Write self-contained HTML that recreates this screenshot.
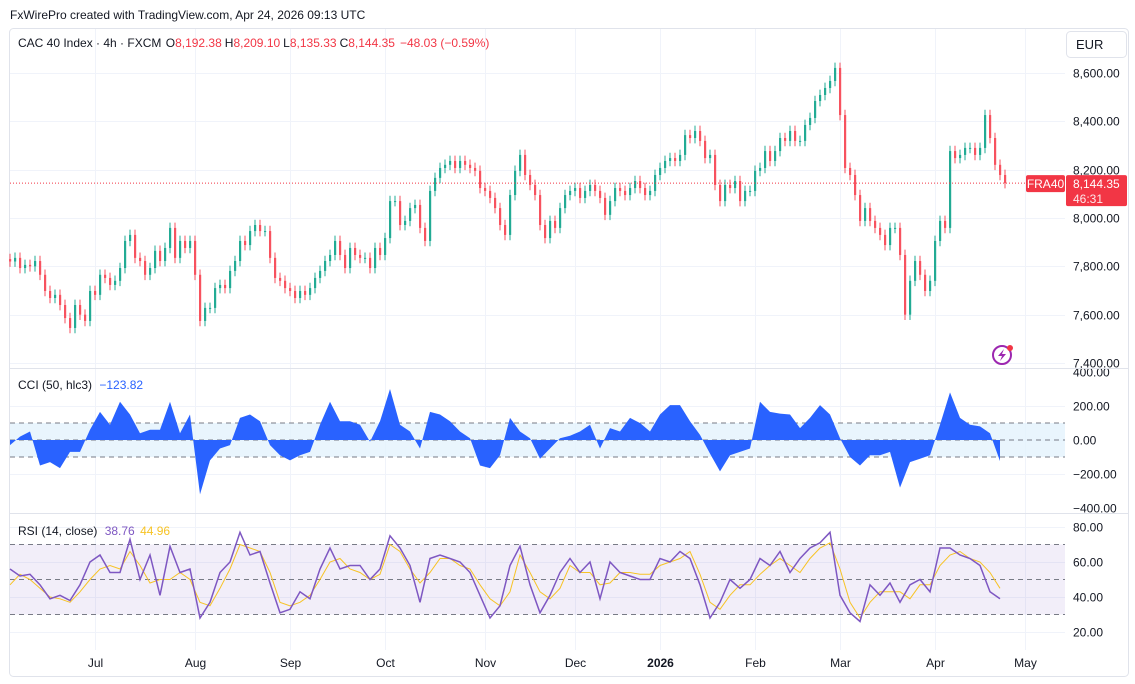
<!DOCTYPE html>
<html><head><meta charset="utf-8"><style>
html,body{margin:0;padding:0;background:#fff;}
svg{display:block;font-family:"Liberation Sans",sans-serif;}
</style></head><body>
<svg id="chart" width="1135" height="684" xmlns="http://www.w3.org/2000/svg">
<rect x="0" y="0" width="1135" height="684" fill="#fff"/>
<text x="10" y="19" font-size="12" fill="#131722">FxWirePro created with TradingView.com, Apr 24, 2026 09:13 UTC</text>
<rect x="9.5" y="28.5" width="1119" height="648" fill="none" stroke="#e0e3eb" rx="4"/>
<g id="grid"></g>
<g id="bands"></g>
<g id="candles"></g>
<g id="cci"></g>
<g id="rsi"></g>
<g id="axes"></g>
<line x1="10" y1="368.5" x2="1128" y2="368.5" stroke="#e0e3eb"/>
<line x1="10" y1="513.5" x2="1128" y2="513.5" stroke="#e0e3eb"/>
<text x="18" y="47" font-size="12" fill="#131722">CAC 40 Index · 4h · FXCM <tspan dx="1">O</tspan><tspan fill="#f23645">8,192.38</tspan><tspan dx="3">H</tspan><tspan fill="#f23645">8,209.10</tspan><tspan dx="3">L</tspan><tspan fill="#f23645">8,135.33</tspan><tspan dx="3">C</tspan><tspan fill="#f23645">8,144.35</tspan><tspan fill="#f23645" dx="5">−48.03 (−0.59%)</tspan></text>
<text x="18" y="389" font-size="12" fill="#131722">CCI (50, hlc3) <tspan fill="#2962ff" dx="4">−123.82</tspan></text>
<text x="18" y="535" font-size="12" fill="#131722">RSI (14, close) <tspan fill="#7e57c2" dx="4">38.76</tspan> <tspan fill="#f7c325" dx="2">44.96</tspan></text>
<rect x="1066.5" y="31.5" width="60" height="26" rx="4" fill="#fff" stroke="#e0e3eb"/>
<text x="1076" y="49" font-size="13" fill="#131722">EUR</text>
<g><circle cx="1002" cy="355" r="9" fill="none" stroke="#9c27b0" stroke-width="2"/><path d="M1004 349 L998 356 L1002 356 L1000 361 L1006 354 L1002 354 Z" fill="#9c27b0"/><circle cx="1010" cy="348" r="3" fill="#f23645"/></g>
</svg>
<script>
const closes=[7820,7835,7793,7806,7800,7822,7765,7698,7669,7682,7640,7586,7545,7640,7600,7574,7698,7682,7765,7752,7723,7740,7793,7905,7930,7835,7822,7765,7793,7864,7822,7876,7959,7835,7905,7876,7905,7765,7574,7628,7628,7710,7723,7710,7781,7822,7905,7888,7946,7971,7946,7946,7835,7752,7740,7710,7698,7669,7698,7682,7710,7752,7781,7822,7847,7905,7847,7793,7876,7847,7835,7835,7793,7876,7847,7917,8070,8070,7971,7988,8041,8054,7959,7905,8112,8166,8207,8220,8236,8207,8236,8220,8207,8195,8124,8112,8083,8041,7971,7930,8095,8195,8261,8178,8137,8095,7971,7917,7988,7959,8041,8095,8112,8124,8083,8112,8137,8112,8083,8013,8070,8124,8112,8095,8124,8153,8124,8095,8112,8178,8207,8236,8248,8236,8261,8343,8331,8360,8319,8248,8261,8137,8070,8137,8124,8153,8070,8112,8112,8195,8207,8277,8236,8277,8331,8319,8360,8319,8319,8385,8414,8484,8509,8538,8567,8621,8426,8207,8178,8095,7988,8041,7988,7959,7930,7888,7959,7959,7847,7600,7740,7822,7765,7698,7740,7905,7988,7959,8277,8248,8261,8290,8290,8261,8290,8426,8331,8220,8178,8144.35];
const cciValues=[-30,20,50,-150,-130,-165,-70,-70,60,165,90,225,150,40,60,60,225,40,150,-320,-120,-50,-30,130,150,110,-30,-90,-120,-90,-70,90,225,110,110,90,-10,110,300,90,50,-50,165,150,110,50,10,-150,-165,-90,130,50,10,-110,-50,10,25,50,90,-50,70,50,130,100,50,150,205,205,110,30,-80,-185,-90,-70,-50,225,165,155,150,70,130,205,150,10,-100,-150,-90,-90,-70,-280,-130,-110,-90,90,280,130,90,80,40,-124];
const rsiValues=[56,52,53,47,39,41,38,47,60,64,54,54,73,50,64,41,69,54,56,28,37,54,60,77,64,66,48,31,33,43,39,56,68,56,58,58,50,56,75,68,58,37,62,64,62,60,54,41,28,35,58,69,47,31,41,54,62,54,60,39,60,54,52,50,50,62,60,66,62,47,28,37,50,45,50,62,58,66,54,62,68,71,77,41,31,26,47,41,48,37,47,50,43,68,68,64,62,58,43,39];
const rsiMaValues=[47,53,50,45,40,39,37,43,50,56,58,56,66,58,48,50,50,54,50,37,35,45,56,70,68,66,54,37,35,37,41,50,60,62,56,54,50,53,70,66,56,48,54,62,62,58,56,47,39,35,43,64,54,43,39,45,58,54,54,47,48,54,54,53,53,58,60,62,66,53,37,33,41,47,47,53,58,62,58,54,62,68,71,56,37,28,37,43,43,43,39,47,47,58,64,66,62,60,54,45];
const priceTicks=[8600,8400,8200,8000,7800,7600,7400];
const cciTicks=[400,200,0,-200,-400];
const rsiTicks=[80,60,40,20];
const monthLabels=["Jul","Aug","Sep","Oct","Nov","Dec","2026","Feb","Mar","Apr","May"];
const monthBarIndex=[17,37,56,75,95,113,130,149,166,185,203];

const NS="http://www.w3.org/2000/svg";
function mk(parent,tag,attrs){const e=document.createElementNS(NS,tag);for(const k in attrs)e.setAttribute(k,attrs[k]);document.getElementById(parent).appendChild(e);return e;}
const xBar=i=>10+i*5;
const xInd=i=>10+i*10;
const yPrice=p=>73+(8600-p)*0.24167;
const yCci=v=>440-v*0.17;
const yRsi=v=>527+(80-v)*1.75;
const fmt=v=>v.toLocaleString('en-US',{minimumFractionDigits:2,maximumFractionDigits:2}).replace('-','−');

monthBarIndex.forEach((b,i)=>{const x=Math.round(xBar(b))+0.5;
 const l=mk('grid','line',{x1:x,y1:29,x2:x,y2:650,stroke:'#f0f3fa'});
 
 
 const t=mk('axes','text',{x:x,y:667,'font-size':12,'text-anchor':'middle',fill:'#131722','font-weight':monthLabels[i]==='2026'?'bold':'normal'});
 t.textContent=monthLabels[i];
 
 
});
priceTicks.forEach(p=>{const y=Math.round(yPrice(p))+0.5;
 const l=mk('grid','line',{x1:10,y1:y,x2:1065,y2:y,stroke:'#f0f3fa'});
 
 
 const t=mk('axes','text',{x:1073,y:y+4,'font-size':12,fill:'#131722'});t.textContent=fmt(p);
 
 
});
cciTicks.forEach(v=>{const y=Math.round(yCci(v))+0.5;
 if(Math.abs(v)<400){const l=mk('grid','line',{x1:10,y1:y,x2:1065,y2:y,stroke:'#f0f3fa'});
 
 }
 const t=mk('axes','text',{x:1073,y:y+4,'font-size':12,fill:'#131722'});t.textContent=fmt(v);
 
 
});
rsiTicks.forEach(v=>{const y=Math.round(yRsi(v))+0.5;
 const l=mk('grid','line',{x1:10,y1:y,x2:1065,y2:y,stroke:'#f0f3fa'});
 
 
 const t=mk('axes','text',{x:1073,y:y+4,'font-size':12,fill:'#131722'});t.textContent=fmt(v);
 
 
});
const cb=mk('bands','rect',{x:10,y:yCci(100),width:1055,height:yCci(-100)-yCci(100),fill:'#e3f2fd',opacity:0.8});


[100,0,-100].forEach(v=>{const l=mk('bands','line',{x1:10,y1:yCci(v),x2:1065,y2:yCci(v),stroke:'#787b86','stroke-dasharray':'5,4'});
 
 });
const rb=mk('bands','rect',{x:10,y:yRsi(70),width:1055,height:yRsi(30)-yRsi(70),fill:'#7e57c2',opacity:0.1});


[70,50,30].forEach(v=>{const l=mk('bands','line',{x1:10,y1:yRsi(v),x2:1065,y2:yRsi(v),stroke:'#787b86','stroke-dasharray':'5,4'});
 
 });
closes.forEach((c,i)=>{const o=i?closes[i-1]:c+10;const up=c>=o;const col=up?'#22ab94':'#f7525f';
 const hi=Math.max(o,c)+22, lo=Math.min(o,c)-22; const x=xBar(i);
 const w=mk('candles','line',{x1:x,y1:yPrice(hi),x2:x,y2:yPrice(lo),stroke:col,'stroke-width':1});
 
 
 const top=yPrice(Math.max(o,c)),bot=yPrice(Math.min(o,c));
 const b=mk('candles','rect',{x:x-1,y:top,width:2.2,height:Math.max(1,bot-top),fill:col});
 
 
});
const last=closes[closes.length-1];const ly=yPrice(last);
const pl=mk('candles','line',{x1:10,y1:ly,x2:1026,y2:ly,stroke:'#f23645','stroke-dasharray':'1,2'});


const sb=mk('axes','rect',{x:1026,y:ly-8,width:39,height:17,fill:'#f23645',rx:2});


const st=mk('axes','text',{x:1045.5,y:ly+5,'font-size':12,fill:'#fff','text-anchor':'middle'});st.textContent='FRA40';
const pb=mk('axes','rect',{x:1066,y:ly-8,width:61,height:31,fill:'#f23645',rx:2});


const pt=mk('axes','text',{x:1073,y:ly+5,'font-size':12,fill:'#fff'});pt.textContent=fmt(last);
const ct=mk('axes','text',{x:1073,y:ly+20,'font-size':12,fill:'#fde8ea'});ct.textContent='46:31';
let d='M'+xInd(0)+','+yCci(0);
cciValues.forEach((v,i)=>{d+=' L'+xInd(i)+','+yCci(v).toFixed(1);});
d+=' L'+xInd(cciValues.length-1)+','+yCci(0)+' Z';
const ca=mk('cci','path',{d:d,fill:'#2962ff'});


const lineD=arr=>arr.map((v,i)=>(i?'L':'M')+xInd(i)+','+yRsi(v).toFixed(1)).join(' ');
const ma=mk('rsi','path',{d:lineD(rsiMaValues),fill:'none',stroke:'#f7c325','stroke-width':1});


const rl=mk('rsi','path',{d:lineD(rsiValues),fill:'none',stroke:'#7e57c2','stroke-width':1.5});


</script>
</body></html>
